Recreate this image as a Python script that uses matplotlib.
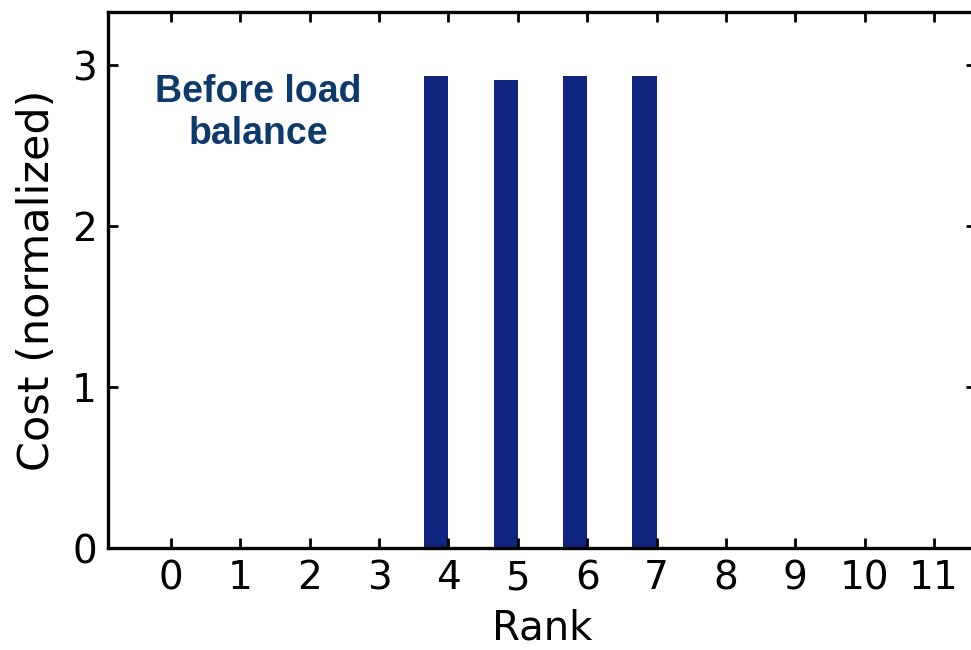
import matplotlib
matplotlib.use('Agg')
import matplotlib.pyplot as plt

ranks = list(range(12))
cost_before = [0, 0, 0, 0, 2.93, 2.91, 2.93, 2.93, 0, 0, 0, 0]

bar_w = 0.35

fig = plt.figure(figsize=(9.71, 6.5), dpi=100)
ax = fig.add_axes([0.1112, 0.1569, 0.8935, 0.8246])

ax.bar([r - bar_w for r in ranks], cost_before, width=bar_w, align='edge',
       color='#0f2580')

ax.set_xlim(-0.91, 11.6)
ax.set_ylim(0, 3.33)
ax.set_xticks(ranks)
ax.set_yticks([0, 1, 2, 3])
ax.tick_params(direction='in', top=True, right=True, length=7, width=2,
               labelsize=28, pad=8, colors='black')
for s in ax.spines.values():
    s.set_linewidth(2.4)

ax.set_xlabel('Rank', fontsize=29, labelpad=8)
ax.set_ylabel('Cost (normalized)', fontsize=31, labelpad=10)

ax.text(258, 650 - 113, 'Before load\nbalance', transform=None, ha='center', va='center',
        fontsize=27, fontweight='bold', color='#0d3a6d', family='Liberation Sans',
        linespacing=1.2)

fig.savefig('out.png', dpi=100)
